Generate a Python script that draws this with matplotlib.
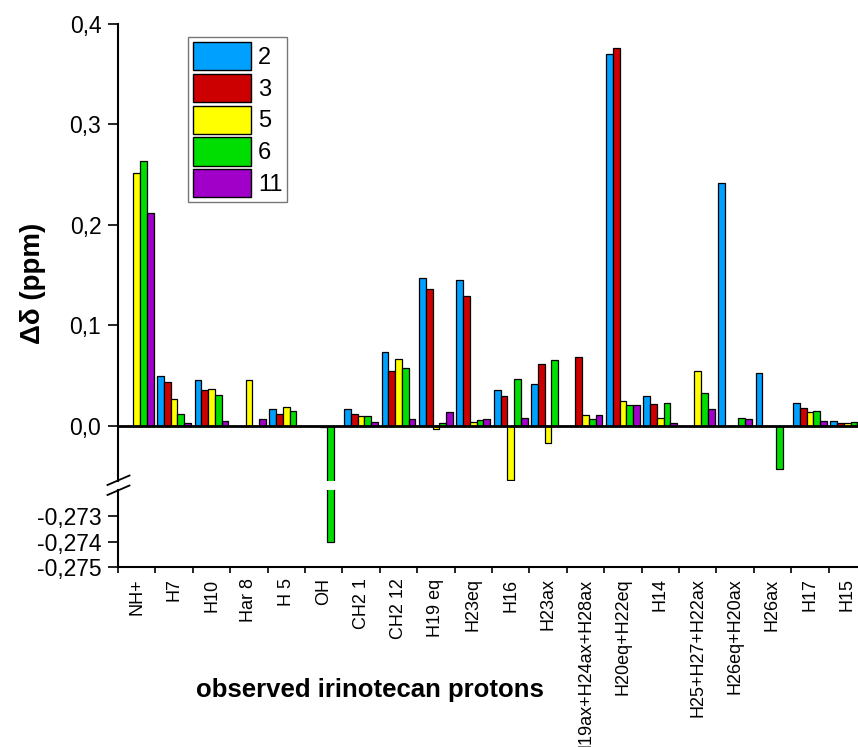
import numpy as np
import matplotlib
matplotlib.use('Agg')
import matplotlib.pyplot as plt
from matplotlib.patches import Patch
from matplotlib.ticker import FuncFormatter
from matplotlib.lines import Line2D

plt.rcParams['font.family'] = ['Liberation Sans', 'DejaVu Sans']

# observed irinotecan protons and the shift change for each compound
protons = ['NH+', 'H7', 'H10', 'Har 8', 'H 5', 'OH', 'CH2 1', 'CH2 12',
           'H19 eq', 'H23eq', 'H16', 'H23ax', 'H19ax+H24ax+H28ax',
           'H20eq+H22eq', 'H14', 'H25+H27+H22ax', 'H26eq+H20ax', 'H26ax',
           'H17', 'H15']
series_names = ['2', '3', '5', '6', '11']
d2 = [0, 0.0495, 0.0452, 0, 0.0163, 0, 0.0163, 0.0737, 0.1468, 0.1448,
      0.0356, 0.0418, 0, 0.3702, 0.0296, 0, 0.242, 0.0528, 0.0229, 0.0044]
d3 = [0, 0.0432, 0.0356, 0, 0.012, 0, 0.0113, 0.0548, 0.1361, 0.1292,
      0.0296, 0.0611, 0.0681, 0.3765, 0.0216, 0, 0, 0, 0.0173, 0.0024]
d5 = [0.252, 0.0269, 0.0366, 0.0452, 0.0183, -0.001, 0.0093, 0.0661, -0.0036,
      0.0034, -0.0538, -0.0175, 0.0107, 0.0243, 0.0077, 0.0545, 0, 0, 0.0136,
      0.003]
d6 = [0.264, 0.0113, 0.0309, 0, 0.015, -0.274, 0.0093, 0.0571, 0.003, 0.0057,
      0.0465, 0.0654, 0.0067, 0.0203, 0.0223, 0.0323, 0.008, -0.0434, 0.015,
      0.0034]
d11 = [0.2115, 0.0024, 0.0047, 0.0067, 0, 0, 0.0034, 0.0067, 0.0136, 0.007,
       0.008, 0, 0.0107, 0.0206, 0.003, 0.0169, 0.007, 0, 0.0044, 0.003]
series = [d2, d3, d5, d6, d11]
colors = ['#00A0FF', '#CC0000', '#FFFF00', '#00DD00', '#A000C8']

upper_ticks = [0.0, 0.1, 0.2, 0.3, 0.4]
lower_ticks = [-0.275, -0.274, -0.273]

W, H = 858, 747
fig = plt.figure(figsize=(W / 100, H / 100), dpi=100)


def fx(px):
    return px / W


def fy(py):
    return 1 - py / H


left, right = 118, 866
ax_top = fig.add_axes([fx(left), fy(481), fx(right - left), fy(24) - fy(481)])
ax_bot = fig.add_axes([fx(left), fy(567.3), fx(right - left), fy(490) - fy(567.3)],
                      sharex=ax_top)

x = np.arange(len(protons))
bw = 0.18
for ax in (ax_top, ax_bot):
    for i, (vals, c) in enumerate(zip(series, colors)):
        ax.bar(x + (i - 2) * bw, vals, bw, color=c, edgecolor='black',
               linewidth=0.9, zorder=2)
    for s in ('top', 'right'):
        ax.spines[s].set_visible(False)
    ax.spines['left'].set_linewidth(1.5)
    ax.tick_params(axis='y', labelsize=16.5, length=7, width=1.2, pad=5)

ax_top.set_ylim(-0.0551, 0.4)
ax_top.axhline(0, color='black', lw=2.0, zorder=3)
ax_top.spines['bottom'].set_visible(False)
ax_top.set_yticks(upper_ticks)
ax_top.yaxis.set_major_formatter(FuncFormatter(lambda v, p: f'{v:.1f}'.replace('.', ',')))
ax_top.tick_params(axis='x', bottom=False, labelbottom=False, which='both')

ax_bot.set_ylim(-0.275, -0.27199)
ax_bot.set_yticks(lower_ticks)
ax_bot.yaxis.set_major_formatter(FuncFormatter(lambda v, p: f'{v:.3f}'.replace('.', ',')))
ax_bot.spines['bottom'].set_linewidth(1.5)
ax_bot.set_xlim(-0.5, len(protons) - 0.5)
ax_bot.set_xticks(x)
ax_bot.set_xticklabels(protons, rotation=90, fontsize=13)
ax_bot.set_xticks(np.arange(len(protons) + 1) - 0.5, minor=True)
ax_bot.tick_params(axis='x', which='major', length=0, pad=8)
ax_bot.tick_params(axis='x', which='minor', length=4, width=1.2)

# break marks on the y axis
for y0 in (485, 495):
    fig.add_artist(Line2D([fx(107.5), fx(129.5)], [fy(y0), fy(y0 - 9.5)],
                          color='black', lw=1.3))

fig.text(fx(33), fy(283), 'Δδ (ppm)', rotation=90, fontsize=20,
         fontweight='bold', ha='center', va='center')
fig.text(fx(370), fy(690), 'observed irinotecan protons', fontsize=18.5,
         fontweight='bold', ha='center', va='center')

handles = [Patch(facecolor=c, edgecolor='black', linewidth=1.0) for c in colors]
leg = ax_top.legend(handles, series_names, loc='upper left',
                    bbox_to_anchor=(fx(188), fy(37.3)),
                    bbox_transform=fig.transFigure, fontsize=17,
                    handlelength=2.46, handleheight=1.45, labelspacing=0.16,
                    handletextpad=0.3, borderpad=0.2, borderaxespad=0,
                    frameon=True, fancybox=False, edgecolor='#555555')
leg.get_frame().set_linewidth(1.0)

fig.savefig('out.png', dpi=100)
